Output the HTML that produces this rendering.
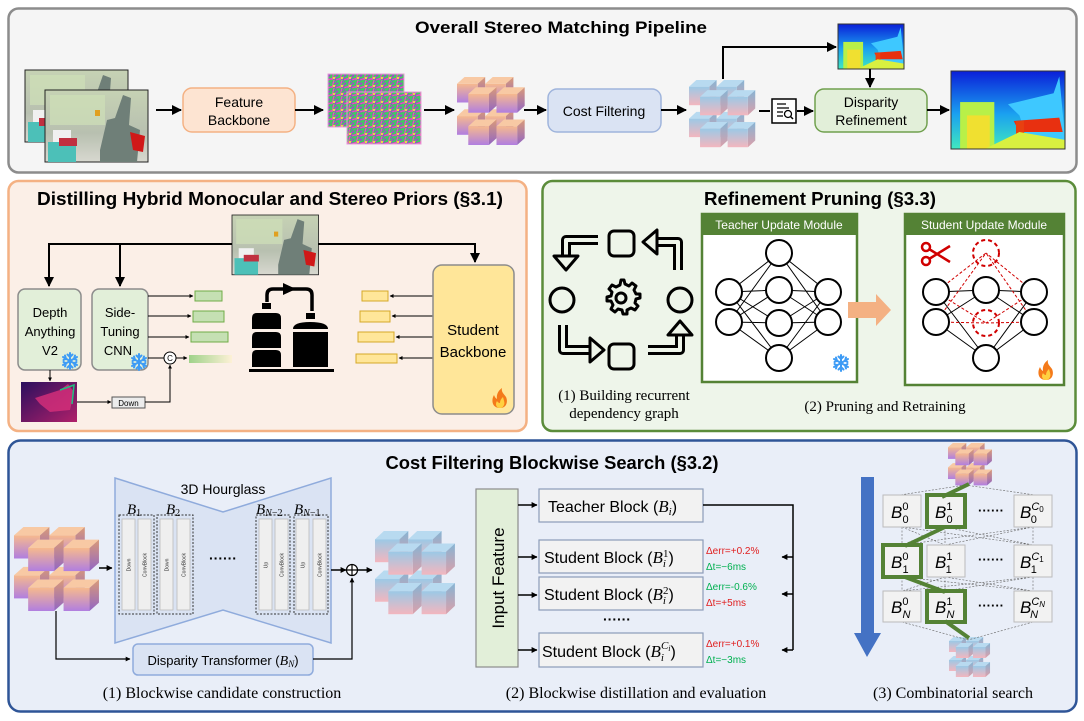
<!DOCTYPE html>
<html><head><meta charset="utf-8"><style>
html,body{margin:0;padding:0;background:#fff}
svg{display:block}
text{font-family:"Liberation Sans",sans-serif}
.sf{font-family:"Liberation Serif",serif}
</style></head><body>
<svg width="1084" height="721" viewBox="0 0 1084 721" xmlns="http://www.w3.org/2000/svg">
<defs>
<marker id="ar" viewBox="0 0 10 10" refX="9" refY="5" markerWidth="5" markerHeight="5" orient="auto"><path d="M0,0L10,5L0,10z" fill="#000"/></marker>
<marker id="as" viewBox="0 0 10 10" refX="9" refY="5" markerWidth="4" markerHeight="4" orient="auto"><path d="M0,0L10,5L0,10z" fill="#000"/></marker>
<linearGradient id="gO" x1="0" y1="0" x2="0" y2="1"><stop offset="0" stop-color="#f6b98e"/><stop offset="1" stop-color="#b07ee0"/></linearGradient>
<linearGradient id="gOs" x1="0" y1="0" x2="0" y2="1"><stop offset="0" stop-color="#d99a78"/><stop offset="1" stop-color="#9266c4"/></linearGradient>
<linearGradient id="gB" x1="0" y1="0" x2="0" y2="1"><stop offset="0" stop-color="#9cc9e6"/><stop offset="1" stop-color="#f3b6be"/></linearGradient>
<linearGradient id="gBs" x1="0" y1="0" x2="0" y2="1"><stop offset="0" stop-color="#86b4d4"/><stop offset="1" stop-color="#dca0aa"/></linearGradient>
<linearGradient id="gbar" x1="0" y1="0" x2="1" y2="0"><stop offset="0" stop-color="#9fd28a"/><stop offset="1" stop-color="#fdf1d6"/></linearGradient>
<linearGradient id="disp" x1="0" y1="0" x2="0" y2="1"><stop offset="0" stop-color="#0a1fd8"/><stop offset="0.55" stop-color="#1aa0f0"/><stop offset="1" stop-color="#40e8c0"/></linearGradient>
<linearGradient id="dep" x1="0" y1="0" x2="1" y2="1"><stop offset="0" stop-color="#2a0f5e"/><stop offset="1" stop-color="#b0206a"/></linearGradient>
<linearGradient id="photo" x1="0" y1="0" x2="0" y2="1"><stop offset="0" stop-color="#c6d2b4"/><stop offset="0.6" stop-color="#b8c0b0"/><stop offset="1" stop-color="#d8d8d0"/></linearGradient>
<pattern id="feat" width="8" height="8" patternUnits="userSpaceOnUse"><rect width="8" height="8" fill="#9a4fc8"/><path d="M0,2L8,0M0,6L8,3M2,0L5,8" stroke="#3cd25a" stroke-width="1.6"/><path d="M0,8L8,5M6,0L4,8" stroke="#f05ab4" stroke-width="1"/><rect x="5" y="5" width="2" height="2" fill="#e8e040"/></pattern>
<g id="cO"><polygon points="0,8 8,0 30,0 22,8" fill="#f8c9a4"/><polygon points="22,8 30,0 30,22 22,30" fill="url(#gOs)"/><rect x="0" y="8" width="22" height="22" fill="url(#gO)"/></g>
<g id="cB"><polygon points="0,8 8,0 30,0 22,8" fill="#b8daf0"/><polygon points="22,8 30,0 30,22 22,30" fill="url(#gBs)"/><rect x="0" y="8" width="22" height="22" fill="url(#gB)"/></g>
<g id="sO"><use href="#cO" x="0" y="0"/><use href="#cO" x="30" y="0"/><use href="#cO" x="0" y="38"/><use href="#cO" x="30" y="38"/><use href="#cO" x="12" y="12"/><use href="#cO" x="42" y="12"/><use href="#cO" x="12" y="50"/><use href="#cO" x="42" y="50"/></g>
<g id="sB"><use href="#cB" x="0" y="0"/><use href="#cB" x="30" y="0"/><use href="#cB" x="0" y="38"/><use href="#cB" x="30" y="38"/><use href="#cB" x="12" y="12"/><use href="#cB" x="42" y="12"/><use href="#cB" x="12" y="50"/><use href="#cB" x="42" y="50"/></g>
<g id="ph"><rect width="103" height="72" fill="url(#photo)" stroke="#222" stroke-width="1"/><rect x="5" y="5" width="55" height="30" fill="#cfe0b8" opacity="0.7"/><path d="M55,60L62,30L70,28L78,5L86,8L84,35L95,40L92,72L55,72z" fill="#6f7f78"/><rect x="8" y="40" width="18" height="14" fill="#f0f0f0"/><rect x="3" y="52" width="28" height="20" fill="#4cc0b8"/><rect x="14" y="48" width="18" height="8" fill="#c03040"/><path d="M85,42L100,46L98,62L88,60z" fill="#d01818"/><rect x="50" y="20" width="5" height="6" fill="#e0a020"/></g>
<g id="dm"><rect width="100" height="70" fill="url(#disp)"/><path d="M50,30L90,20L95,5L100,60L100,70L70,70L60,40z" fill="#3ec8ff"/><rect x="8" y="28" width="30" height="42" fill="#b8f048"/><rect x="14" y="40" width="20" height="30" fill="#f0e030"/><path d="M55,45L95,42L98,55L60,55z" fill="#e83010"/><rect x="57" y="45" width="7" height="25" fill="#e84010"/><path d="M30,70L60,55L100,62L100,70z" fill="#d8f040"/></g>
<g id="snow" stroke="#3d9bf5" stroke-width="2" stroke-linecap="round" fill="none"><path d="M0,-8V8M-7,-4L7,4M-7,4L7,-4"/><path d="M-2.5,-6.5L0,-4L2.5,-6.5M-2.5,6.5L0,4L2.5,6.5M-6.5,-1L-4,-2.3L-5,-5.5M6.5,1L4,2.3L5,5.5M-6.5,1L-4,2.3L-5,5.5M6.5,-1L4,-2.3L5,-5.5"/></g>
<g id="flame"><path d="M0,10C-8,10-9,2-6,-3C-5,0-3,1-3,1C-4,-4-1,-8 2,-10C1,-6 4,-4 6,-1C8,3 7,10 0,10z" fill="#f47a1a"/><path d="M0,10C-4,10-5,6-3,3C-2,5 0,5 0,5C0,2 2,0 3,-1C4,3 5,5 4,7C3,9 2,10 0,10z" fill="#ffd040"/></g>
</defs>

<!-- Panel 1 -->
<rect x="8.5" y="8.5" width="1068" height="164" rx="10" fill="#f5f5f5" stroke="#8c8c8c" stroke-width="2.5"/>
<text x="561" y="33" font-size="17" font-weight="bold" text-anchor="middle" textLength="292" lengthAdjust="spacingAndGlyphs">Overall Stereo Matching Pipeline</text>
<use href="#ph" x="25" y="70"/>
<use href="#ph" x="45" y="90"/>
<line x1="156" y1="110" x2="181" y2="110" stroke="#000" stroke-width="2" marker-end="url(#ar)"/>
<rect x="183" y="88" width="112" height="44" rx="9" fill="#fde4d2" stroke="#f4b183" stroke-width="1.5"/>
<text x="239" y="107" font-size="14" text-anchor="middle">Feature</text>
<text x="239" y="125" font-size="14" text-anchor="middle">Backbone</text>
<line x1="295" y1="110" x2="323" y2="110" stroke="#000" stroke-width="2" marker-end="url(#ar)"/>
<rect x="328" y="74" width="76" height="53" fill="url(#feat)" stroke="#e89ad8"/>
<rect x="347" y="92" width="74" height="52" fill="url(#feat)" stroke="#e89ad8"/>
<line x1="424" y1="110" x2="454" y2="110" stroke="#000" stroke-width="2" marker-end="url(#ar)"/>
<use href="#sO" transform="translate(457,77) scale(0.94,0.85)"/>
<line x1="524" y1="110" x2="546" y2="110" stroke="#000" stroke-width="2" marker-end="url(#ar)"/>
<rect x="548" y="89" width="113" height="43" rx="9" fill="#dae3f3" stroke="#9fb4dc" stroke-width="1.5"/>
<text x="604" y="116" font-size="14" text-anchor="middle">Cost Filtering</text>
<line x1="661" y1="110" x2="686" y2="110" stroke="#000" stroke-width="2" marker-end="url(#ar)"/>
<use href="#sB" transform="translate(689,80) scale(0.92,0.84)"/>
<polyline points="723,79 723,47 836,47" fill="none" stroke="#000" stroke-width="2" marker-end="url(#ar)"/>
<use href="#dm" transform="translate(838,24) scale(0.66,0.64)"/>
<rect x="838" y="24" width="66" height="45" fill="none" stroke="#333"/>
<line x1="870" y1="69" x2="870" y2="87" stroke="#000" stroke-width="2" marker-end="url(#ar)"/>
<line x1="759" y1="111" x2="770" y2="111" stroke="#000" stroke-width="2"/>
<rect x="772" y="99" width="24" height="24" fill="#fff" stroke="#000" stroke-width="1.5"/>
<path d="M777,104h9M777,108h12M777,112h6M777,116h6" stroke="#000" stroke-width="1.2"/>
<circle cx="788" cy="114" r="3.5" fill="none" stroke="#000" stroke-width="1.3"/><line x1="790.5" y1="116.5" x2="793" y2="119" stroke="#000" stroke-width="1.5"/>
<line x1="797" y1="111" x2="813" y2="111" stroke="#000" stroke-width="2" marker-end="url(#ar)"/>
<rect x="815" y="89" width="112" height="43" rx="9" fill="#e2efd9" stroke="#70a04e" stroke-width="1.5"/>
<text x="871" y="107" font-size="14" text-anchor="middle">Disparity</text>
<text x="871" y="125" font-size="14" text-anchor="middle">Refinement</text>
<line x1="927" y1="110" x2="949" y2="110" stroke="#000" stroke-width="2" marker-end="url(#ar)"/>
<use href="#dm" transform="translate(951,71) scale(1.14,1.11)"/>
<rect x="951" y="71" width="114" height="78" fill="none" stroke="#333"/>

<!-- Panel 2 -->
<rect x="8.5" y="181" width="518" height="250" rx="10" fill="#fbefe7" stroke="#f4b183" stroke-width="2.5"/>
<text x="270" y="205" font-size="18" font-weight="bold" text-anchor="middle" textLength="466" lengthAdjust="spacingAndGlyphs">Distilling Hybrid Monocular and Stereo Priors (§3.1)</text>
<use href="#ph" transform="translate(232,215) scale(0.84,0.83)"/>
<polyline points="232,244 49,244 49,286" fill="none" stroke="#000" stroke-width="2" marker-end="url(#ar)"/>
<polyline points="120,244 120,286" fill="none" stroke="#000" stroke-width="2" marker-end="url(#ar)"/>
<polyline points="318,244 475,244 475,262" fill="none" stroke="#000" stroke-width="2" marker-end="url(#ar)"/>
<rect x="18" y="289" width="63" height="81" rx="7" fill="#e2efd9" stroke="#8c8c8c" stroke-width="1.5"/>
<text x="50" y="317" font-size="13" text-anchor="middle">Depth</text>
<text x="50" y="336" font-size="13" text-anchor="middle">Anything</text>
<text x="50" y="355" font-size="13" text-anchor="middle">V2</text>
<use href="#snow" x="70" y="361"/>
<rect x="92" y="289" width="56" height="81" rx="7" fill="#e2efd9" stroke="#8c8c8c" stroke-width="1.5"/>
<text x="120" y="317" font-size="13" text-anchor="middle">Side-</text>
<text x="120" y="336" font-size="13" text-anchor="middle">Tuning</text>
<text x="118" y="355" font-size="13" text-anchor="middle">CNN</text>
<use href="#snow" x="139" y="362"/>
<line x1="148" y1="296" x2="193" y2="296" stroke="#000" stroke-width="1" marker-end="url(#as)"/>
<line x1="148" y1="316" x2="191" y2="316" stroke="#000" stroke-width="1" marker-end="url(#as)"/>
<line x1="148" y1="337" x2="189" y2="337" stroke="#000" stroke-width="1" marker-end="url(#as)"/>
<line x1="148" y1="358" x2="164" y2="358" stroke="#000" stroke-width="1"/>
<rect x="195" y="291" width="27" height="10" fill="#c5e0b3" stroke="#70ad47"/>
<rect x="193" y="311" width="31" height="11" fill="#c5e0b3" stroke="#70ad47"/>
<rect x="191" y="332" width="37" height="10" fill="#c5e0b3" stroke="#70ad47"/>
<circle cx="170" cy="358" r="6" fill="#fff" stroke="#000"/>
<text x="170" y="361" font-size="8" text-anchor="middle">C</text>
<line x1="176" y1="358" x2="187" y2="358" stroke="#000" stroke-width="1" marker-end="url(#as)"/>
<rect x="189" y="355" width="43" height="8" fill="url(#gbar)"/>
<line x1="50" y1="370" x2="50" y2="381" stroke="#000" stroke-width="1" marker-end="url(#as)"/>
<rect x="21" y="382" width="56" height="40" fill="url(#dep)"/>
<path d="M35,398L60,390L68,384L74,392L70,410L50,412L40,404z" fill="#d8307a" opacity="0.8"/>
<path d="M60,390L74,385L72,404" fill="none" stroke="#20c080" stroke-width="1.5"/>
<line x1="77" y1="402" x2="111" y2="402" stroke="#000" stroke-width="1" marker-end="url(#as)"/>
<rect x="112" y="397" width="33" height="11" fill="#ececec" stroke="#555"/>
<text x="128.5" y="406" font-size="8" text-anchor="middle">Down</text>
<polyline points="145,402 170,402 170,365" fill="none" stroke="#000" stroke-width="1" marker-end="url(#as)"/>
<g fill="#000">
<rect x="262" y="303" width="9" height="6"/>
<path d="M252,329V318Q252,313 257,313H276Q281,313 281,318V329z"/>
<path d="M252,348V337Q252,332 257,332H276Q281,332 281,337V348z"/>
<path d="M252,367V355Q252,350 257,350H276Q281,350 281,355V367z"/>
<rect x="306" y="313" width="9" height="6"/>
<path d="M293,329Q293,322 310,322Q328,322 328,329z"/>
<rect x="293" y="332" width="35" height="35"/>
<rect x="249" y="369" width="85" height="3"/>
<path d="M283,283L296,289L283,295z"/>
</g>
<path d="M267,302V295Q267,289 273,289H306Q312,289 312,295V311" fill="none" stroke="#000" stroke-width="3.5"/>
<rect x="362" y="291" width="26" height="10" fill="#ffe699" stroke="#d6a828"/>
<rect x="360" y="311" width="30" height="11" fill="#ffe699" stroke="#d6a828"/>
<rect x="358" y="332" width="36" height="10" fill="#ffe699" stroke="#d6a828"/>
<rect x="356" y="354" width="41" height="9" fill="#ffe699" stroke="#d6a828"/>
<line x1="433" y1="296" x2="390" y2="296" stroke="#000" stroke-width="1" marker-end="url(#as)"/>
<line x1="433" y1="316" x2="392" y2="316" stroke="#000" stroke-width="1" marker-end="url(#as)"/>
<line x1="433" y1="337" x2="396" y2="337" stroke="#000" stroke-width="1" marker-end="url(#as)"/>
<line x1="433" y1="358" x2="399" y2="358" stroke="#000" stroke-width="1" marker-end="url(#as)"/>
<rect x="433" y="265" width="81" height="149" rx="9" fill="#ffe699" stroke="#8c8c8c" stroke-width="1.5"/>
<text x="473" y="335" font-size="15" text-anchor="middle">Student</text>
<text x="473" y="357" font-size="15" text-anchor="middle">Backbone</text>
<use href="#flame" x="500" y="398"/>

<!-- Panel 3 -->
<rect x="542.5" y="181" width="533" height="250" rx="10" fill="#eef5ea" stroke="#5b8c3a" stroke-width="2.5"/>
<text x="820" y="205" font-size="18" font-weight="bold" text-anchor="middle" textLength="232" lengthAdjust="spacingAndGlyphs">Refinement Pruning (§3.3)</text>
<g fill="none" stroke="#000" stroke-width="3">
<rect x="609" y="231" width="25" height="25" rx="5"/>
<rect x="609" y="344" width="25" height="25" rx="5"/>
<circle cx="562" cy="300" r="12"/>
<circle cx="680" cy="300" r="12"/>
<circle cx="621" cy="298" r="5"/>
</g>
<path d="M621,280l3,0 1,4 4,2 3,-3 4,3 -2,4 2,4 4,0 0,4 -4,1 -1,4 3,3 -3,4 -4,-2 -4,2 0,4 -4,0 -1,-4 -4,-1 -3,3 -4,-3 2,-4 -2,-4 -4,0 0,-4 4,-1 1,-4 -3,-3 3,-4 4,2 4,-2z" fill="none" stroke="#000" stroke-width="3" stroke-linejoin="round"/>
<g fill="none" stroke-linejoin="round">
<path d="M598,240H566V258M678,270V242H655M563,325V350H590M648,350H680V333" stroke="#000" stroke-width="10"/>
<path d="M598,240H566V258M678,270V242H655M563,325V350H590M648,350H680V333" stroke="#eef5ea" stroke-width="4"/>
</g>
<g fill="#eef5ea" stroke="#000" stroke-width="3" stroke-linejoin="round">
<polygon points="554,256 578,256 566,270"/>
<polygon points="657,230 657,254 643,242"/>
<polygon points="590,338 590,362 604,350"/>
<polygon points="668,335 692,335 680,321"/>
</g>
<text class="sf" x="624" y="400" font-size="15" text-anchor="middle">(1) Building recurrent</text>
<text class="sf" x="624" y="418" font-size="15" text-anchor="middle">dependency graph</text>
<rect x="702" y="214" width="155" height="168" fill="#fff" stroke="#548235" stroke-width="2.5"/>
<rect x="702" y="214" width="155" height="21" fill="#548235"/>
<text x="779" y="229" font-size="12" fill="#fff" text-anchor="middle">Teacher Update Module</text>
<g stroke="#000" stroke-width="1">
<path d="M729,292L779,253M729,292L779,290M729,292L779,323M729,292L779,358M729,322L779,253M729,322L779,290M729,322L779,323M729,322L779,358M828,292L779,253M828,292L779,290M828,292L779,323M828,292L779,358M828,322L779,253M828,322L779,290M828,322L779,323M828,322L779,358"/>
</g>
<g fill="#fff" stroke="#000" stroke-width="2">
<ellipse cx="729" cy="292" rx="13" ry="13"/><ellipse cx="729" cy="322" rx="13" ry="13"/>
<ellipse cx="779" cy="253" rx="13" ry="13"/><ellipse cx="779" cy="290" rx="13" ry="13"/><ellipse cx="779" cy="323" rx="13" ry="13"/><ellipse cx="779" cy="358" rx="13" ry="13"/>
<ellipse cx="828" cy="292" rx="13" ry="13"/><ellipse cx="828" cy="322" rx="13" ry="13"/>
</g>
<use href="#snow" x="841" y="363"/>
<polygon points="848,302 876,302 876,294 891,310 876,326 876,318 848,318" fill="#f4b183"/>
<rect x="905" y="214" width="159" height="171" fill="#fff" stroke="#548235" stroke-width="2.5"/>
<rect x="905" y="214" width="159" height="21" fill="#548235"/>
<text x="984" y="229" font-size="12" fill="#fff" text-anchor="middle">Student Update Module</text>
<g stroke="#000" stroke-width="1">
<path d="M936,292L986,290M936,292L986,358M936,322L986,290M936,322L986,358M1034,292L986,290M1034,292L986,358M1034,322L986,290M1034,322L986,358"/>
</g>
<g stroke="#d00000" stroke-width="1" stroke-dasharray="3,2">
<path d="M936,292L986,253M936,292L986,323M936,322L986,253M936,322L986,323M1034,292L986,253M1034,292L986,323M1034,322L986,253M1034,322L986,323"/>
</g>
<g fill="#fff" stroke="#000" stroke-width="2">
<ellipse cx="936" cy="292" rx="13" ry="13"/><ellipse cx="936" cy="322" rx="13" ry="13"/>
<ellipse cx="986" cy="290" rx="13" ry="13"/><ellipse cx="986" cy="358" rx="13" ry="13"/>
<ellipse cx="1034" cy="292" rx="13" ry="13"/><ellipse cx="1034" cy="322" rx="13" ry="13"/>
</g>
<g fill="none" stroke="#d00000" stroke-width="2" stroke-dasharray="4,3">
<ellipse cx="986" cy="253" rx="13" ry="13"/><ellipse cx="986" cy="323" rx="13" ry="13"/>
</g>
<g stroke="#d00000" fill="none" stroke-width="2.5">
<circle cx="926" cy="247" r="4"/><circle cx="926" cy="261" r="4"/>
<path d="M929,249L950,262M929,259L950,246"/>
</g>
<use href="#flame" x="1046" y="370"/>
<text class="sf" x="885" y="411" font-size="15" text-anchor="middle">(2) Pruning and Retraining</text>

<!-- Panel 4 -->
<rect x="8.5" y="440.5" width="1068" height="271" rx="12" fill="#e9eef8" stroke="#2f5597" stroke-width="2.5"/>
<text x="552" y="469" font-size="18" font-weight="bold" text-anchor="middle" textLength="333" lengthAdjust="spacingAndGlyphs">Cost Filtering Blockwise Search (§3.2)</text>
<use href="#sO" transform="translate(14,527) scale(1.18,1.05)"/>
<polygon points="115,478 223,512 331,478 331,643 223,610 115,643" fill="#dae3f3" stroke="#8fabdc" stroke-width="1.5"/>
<text x="223" y="494" font-size="14" text-anchor="middle">3D Hourglass</text>
<line x1="99" y1="568" x2="112" y2="568" stroke="#000" stroke-width="1.5" marker-end="url(#as)"/>
<g fill="#efefef" stroke="#bbb" stroke-width="0.8">
<rect x="122" y="519" width="13" height="91"/><rect x="138" y="519" width="13" height="91"/>
<rect x="160" y="519" width="13" height="91"/><rect x="177" y="519" width="13" height="91"/>
<rect x="259" y="519" width="13" height="91"/><rect x="275" y="519" width="13" height="91"/>
<rect x="296" y="519" width="13" height="91"/><rect x="313" y="519" width="13" height="91"/>
</g>
<g fill="none" stroke="#333" stroke-width="1" stroke-dasharray="2,1.5">
<rect x="119" y="515" width="35" height="99"/><rect x="157" y="515" width="36" height="99"/>
<rect x="256" y="515" width="34" height="99"/><rect x="294" y="515" width="34" height="99"/>
</g>
<g font-size="5" text-anchor="middle" fill="#333">
<text transform="translate(130.5,565) rotate(-90)">Down</text><text transform="translate(146.5,565) rotate(-90)">ConvBlock</text>
<text transform="translate(168.5,565) rotate(-90)">Down</text><text transform="translate(185.5,565) rotate(-90)">ConvBlock</text>
<text transform="translate(267.5,565) rotate(-90)">Up</text><text transform="translate(283.5,565) rotate(-90)">ConvBlock</text>
<text transform="translate(304.5,565) rotate(-90)">Up</text><text transform="translate(321.5,565) rotate(-90)">ConvBlock</text>
</g>
<g class="sf" font-size="15">
<text x="127" y="514" class="sf"><tspan font-style="italic">B</tspan><tspan font-size="10" dy="2">1</tspan></text>
<text x="166" y="514" class="sf"><tspan font-style="italic">B</tspan><tspan font-size="10" dy="2">2</tspan></text>
<text x="256" y="514" class="sf"><tspan font-style="italic">B</tspan><tspan font-size="10" dy="2" font-style="italic">N</tspan><tspan font-size="10">−2</tspan></text>
<text x="294" y="514" class="sf"><tspan font-style="italic">B</tspan><tspan font-size="10" dy="2" font-style="italic">N</tspan><tspan font-size="10">−1</tspan></text>
</g>
<text x="223" y="563" font-size="14" text-anchor="middle" font-weight="bold">······</text>
<line x1="331" y1="570" x2="346" y2="570" stroke="#000" stroke-width="1.5" marker-end="url(#as)"/>
<circle cx="352" cy="570" r="5.5" fill="#fff" stroke="#000" stroke-width="1.2"/>
<path d="M346.5,570h11M352,564.5v11" stroke="#000" stroke-width="1.2"/>
<line x1="358" y1="570" x2="372" y2="570" stroke="#000" stroke-width="1.5" marker-end="url(#as)"/>
<use href="#sB" transform="translate(375,531) scale(1.11,1.04)"/>
<polyline points="56,611 56,659 130,659" fill="none" stroke="#000" stroke-width="1.2" marker-end="url(#as)"/>
<rect x="133" y="644" width="180" height="31" rx="5" fill="#dae3f3" stroke="#8fabdc" stroke-width="1.5"/>
<text x="223" y="665" font-size="13" text-anchor="middle">Disparity Transformer (<tspan class="sf" font-style="italic" font-size="14">B</tspan><tspan class="sf" font-style="italic" font-size="9" dy="2">N</tspan><tspan dy="-2">)</tspan></text>
<polyline points="313,659 352,659 352,578" fill="none" stroke="#000" stroke-width="1.2" marker-end="url(#as)"/>
<text class="sf" x="222" y="698" font-size="16" text-anchor="middle">(1) Blockwise candidate construction</text>

<rect x="476" y="489" width="42" height="178" fill="#e2efd9" stroke="#8c8c8c" stroke-width="1.2"/>
<text transform="translate(504,578) rotate(-90)" font-size="17" text-anchor="middle">Input Feature</text>
<g stroke="#000" stroke-width="1.5">
<line x1="518" y1="505" x2="537" y2="505" marker-end="url(#as)"/>
<line x1="518" y1="557" x2="537" y2="557" marker-end="url(#as)"/>
<line x1="518" y1="595" x2="537" y2="595" marker-end="url(#as)"/>
<line x1="518" y1="650" x2="537" y2="650" marker-end="url(#as)"/>
</g>
<g fill="#f2f2f2" stroke="#8c9cb8" stroke-width="1.2">
<rect x="539" y="489" width="164" height="33"/>
<rect x="539" y="540" width="164" height="33"/>
<rect x="539" y="577" width="164" height="33"/>
<rect x="539" y="633" width="164" height="34"/>
</g>
<text x="548" y="512" font-size="16">Teacher Block (<tspan class="sf" font-style="italic" font-size="17">B</tspan><tspan class="sf" font-style="italic" font-size="11" dy="3">i</tspan><tspan dy="-3">)</tspan></text>
<text x="544" y="563" font-size="16">Student Block (<tspan class="sf" font-style="italic" font-size="17">B</tspan><tspan class="sf" font-style="italic" font-size="11" dy="4">i</tspan><tspan class="sf" font-size="11" dx="-3" dy="-10">1</tspan><tspan dy="6">)</tspan></text>
<text x="544" y="600" font-size="16">Student Block (<tspan class="sf" font-style="italic" font-size="17">B</tspan><tspan class="sf" font-style="italic" font-size="11" dy="4">i</tspan><tspan class="sf" font-size="11" dx="-3" dy="-10">2</tspan><tspan dy="6">)</tspan></text>
<text x="542" y="657" font-size="16">Student Block (<tspan class="sf" font-style="italic" font-size="17">B</tspan><tspan class="sf" font-style="italic" font-size="11" dy="4">i</tspan><tspan class="sf" font-style="italic" font-size="11" dx="-3" dy="-12">C<tspan font-size="8" dy="2">i</tspan></tspan><tspan dy="6">)</tspan></text>
<text x="617" y="624" font-size="14" text-anchor="middle" font-weight="bold">······</text>
<g font-size="10">
<text x="706" y="554" fill="#e02020">Δerr=+0.2%</text><text x="706" y="570" fill="#00b050">Δt=−6ms</text>
<text x="706" y="590" fill="#00b050">Δerr=-0.6%</text><text x="706" y="606" fill="#e02020">Δt=+5ms</text>
<text x="706" y="647" fill="#e02020">Δerr=+0.1%</text><text x="706" y="663" fill="#00b050">Δt=−3ms</text>
</g>
<polyline points="703,505 793,505 793,650" fill="none" stroke="#000" stroke-width="1.5"/>
<g stroke="#000" stroke-width="1.5">
<line x1="793" y1="557" x2="782" y2="557" marker-end="url(#as)"/>
<line x1="793" y1="594" x2="782" y2="594" marker-end="url(#as)"/>
<line x1="793" y1="650" x2="782" y2="650" marker-end="url(#as)"/>
</g>
<text class="sf" x="636" y="698" font-size="16" text-anchor="middle">(2) Blockwise distillation and evaluation</text>

<polygon points="861,477 874,477 874,633 881,633 867,657 854,633 861,633" fill="#4472c4"/>
<use href="#sO" transform="translate(948,443) scale(0.61,0.53)"/>
<use href="#sB" transform="translate(949,637) scale(0.57,0.5)"/>
<g stroke="#666" stroke-width="0.6" stroke-dasharray="2,1.5" fill="none">
<path d="M965,485L900,495M965,485L1035,495M965,485L945,495"/>
<path d="M902,527L902,545M945,527L945,545M1033,527L1033,545M902,527L1033,545M945,527L1033,545M902,527L945,545M1033,527L902,545M1033,527L945,545M945,527L902,545"/>
<path d="M902,577L902,591M945,577L945,591M1033,577L1033,591M902,577L1033,591M945,577L1033,591M902,577L945,591M1033,577L902,591M1033,577L945,591M945,577L902,591"/>
<path d="M902,622L968,640M1033,622L968,640"/>
</g>
<g fill="#f2f2f2" stroke="#bbb" stroke-width="1">
<rect x="883" y="495" width="38" height="32"/><rect x="927" y="495" width="38" height="32"/><rect x="1014" y="495" width="38" height="32"/>
<rect x="883" y="545" width="38" height="32"/><rect x="927" y="545" width="38" height="32"/><rect x="1014" y="545" width="38" height="32"/>
<rect x="883" y="591" width="38" height="31"/><rect x="927" y="591" width="38" height="31"/><rect x="1014" y="591" width="38" height="31"/>
</g>
<g stroke="#548235" stroke-width="4" fill="none">
<path d="M969,484L942,497M945,527L905,546M905,577L945,592M945,621L969,638"/>
<rect x="927" y="495" width="38" height="32"/><rect x="883" y="545" width="38" height="32"/><rect x="927" y="591" width="38" height="31"/>
</g>
<g class="sf" font-size="17" font-style="italic">
<text x="891" y="518">B<tspan font-size="11" font-style="normal" dx="0" dy="-8">0</tspan><tspan font-size="11" font-style="normal" dx="-6" dy="13">0</tspan></text>
<text x="935" y="518">B<tspan font-size="11" font-style="normal" dy="-8">1</tspan><tspan font-size="11" font-style="normal" dx="-6" dy="13">0</tspan></text>
<text x="1020" y="518">B<tspan font-size="11" dy="-8">C</tspan><tspan font-size="8" font-style="normal" dy="2">0</tspan><tspan font-size="11" font-style="normal" dx="-13" dy="11">0</tspan></text>
<text x="891" y="568">B<tspan font-size="11" font-style="normal" dy="-8">0</tspan><tspan font-size="11" font-style="normal" dx="-6" dy="13">1</tspan></text>
<text x="935" y="568">B<tspan font-size="11" font-style="normal" dy="-8">1</tspan><tspan font-size="11" font-style="normal" dx="-6" dy="13">1</tspan></text>
<text x="1020" y="568">B<tspan font-size="11" dy="-8">C</tspan><tspan font-size="8" font-style="normal" dy="2">1</tspan><tspan font-size="11" font-style="normal" dx="-13" dy="11">1</tspan></text>
<text x="891" y="613">B<tspan font-size="11" font-style="normal" dy="-8">0</tspan><tspan font-size="11" dx="-6" dy="13">N</tspan></text>
<text x="935" y="613">B<tspan font-size="11" font-style="normal" dy="-8">1</tspan><tspan font-size="11" dx="-6" dy="13">N</tspan></text>
<text x="1020" y="613">B<tspan font-size="11" dy="-8">C</tspan><tspan font-size="8" dy="2">N</tspan><tspan font-size="11" dx="-15" dy="11">N</tspan></text>
</g>
<g font-size="13" font-weight="bold" text-anchor="middle">
<text x="991" y="515">······</text><text x="991" y="564">······</text><text x="991" y="610">······</text>
</g>
<text class="sf" x="953" y="698" font-size="16" text-anchor="middle">(3) Combinatorial search</text>
</svg>
</body></html>
